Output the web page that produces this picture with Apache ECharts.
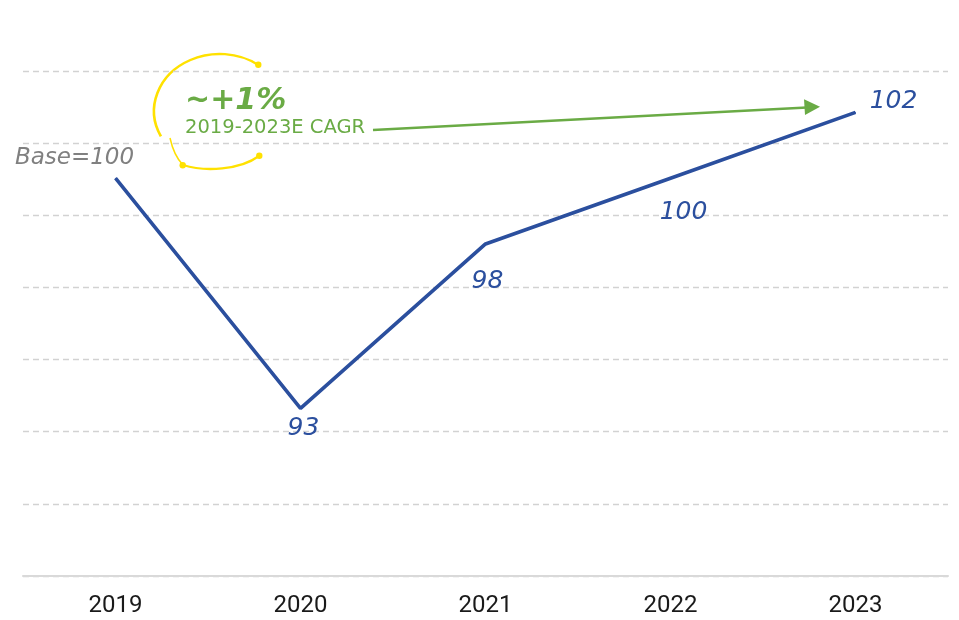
<!DOCTYPE html>
<html lang="en">

<head>
    <meta charset="UTF-8">
    <title>Index 2019-2023</title>
    <script src="https://cdn.jsdelivr.net/npm/echarts@6/dist/echarts.min.js"></script>
    <style>
        html, body { margin: 0; padding: 0; background: #fff; }
    </style>
</head>

<body>
    <div id="chart" style="width: 959px; height: 620px;"></div>
    <script>
        // data
        const years = ['2019', '2020', '2021', '2022', '2023'];
        const indexValues = [100, 93, 98, 100, 102];
        const pointLabels = ['Base=100', '93', '98', '100', '102'];
        const gridSteps = [0, 7];

        const blue = '#2b4f9e';
        const green = '#6aab45';
        const yellow = '#ffe100';

        // label placement per point (offset from the point)
        const labelOffsets = [[-41, -20], [3, 20], [2, 38], [13, 34], [38, -11]];

        let myChart = echarts.init(document.getElementById('chart'));

        let seriesData = indexValues.map(function (v, i) {
            return {
                value: v,
                label: {
                    offset: labelOffsets[i],
                    color: i === 0 ? '#808080' : blue,
                    fontSize: i === 0 ? 23 : 25
                }
            };
        });

        let option = {
            animation: false,
            grid: { left: 23, right: 11, top: 71, bottom: 44 },
            xAxis: {
                type: 'category',
                data: years,
                boundaryGap: true,
                axisTick: { show: false },
                axisLine: { lineStyle: { color: '#d9d9d9', width: 2 } },
                axisLabel: {
                    color: '#1a1a1a',
                    fontSize: 24,
                    fontFamily: 'Roboto',
                    margin: 18
                }
            },
            yAxis: [
                {
                    type: 'value',
                    min: 87.9,
                    max: 103.26,
                    show: false,
                    splitLine: { show: false }
                },
                {
                    type: 'value',
                    min: gridSteps[0],
                    max: gridSteps[1],
                    interval: 1,
                    axisLabel: { show: false },
                    axisLine: { show: false },
                    axisTick: { show: false },
                    splitLine: {
                        show: true,
                        lineStyle: { color: '#d2d2d2', width: 1.4, type: [6, 4] }
                    }
                }
            ],
            series: [
                {
                    type: 'line',
                    yAxisIndex: 0,
                    data: seriesData,
                    symbol: 'circle',
                    symbolSize: 1,
                    itemStyle: { color: blue },
                    lineStyle: { color: blue, width: 3.6 },
                    label: {
                        show: true,
                        position: 'inside',
                        fontFamily: 'DejaVu Sans',
                        fontStyle: 'italic',
                        formatter: function (p) { return pointLabels[p.dataIndex]; }
                    },
                    z: 3
                }
            ],
            graphic: [
                // yellow swoosh round the CAGR note
                {
                    type: 'arc',
                    x: 219.6,
                    y: 111,
                    scaleX: 1.15,
                    shape: { cx: 0, cy: 0, r: 57, startAngle: 2.68, endAngle: 5.34, clockwise: true },
                    style: { fill: 'none', stroke: yellow, lineWidth: 2.3, strokeNoScale: true }
                },
                {
                    type: 'bezierCurve',
                    shape: { x1: 170, y1: 138, cpx1: 174, cpy1: 156, x2: 183, y2: 165 },
                    style: { fill: 'none', stroke: yellow, lineWidth: 1.5 }
                },
                {
                    type: 'bezierCurve',
                    shape: { x1: 183, y1: 165, cpx1: 205, cpy1: 172, cpx2: 240, cpy2: 170, x2: 259, y2: 156 },
                    style: { fill: 'none', stroke: yellow, lineWidth: 2.3 }
                },
                { type: 'circle', shape: { cx: 258.3, cy: 64.7, r: 3.2 }, style: { fill: yellow } },
                { type: 'circle', shape: { cx: 259.3, cy: 155.7, r: 3.2 }, style: { fill: yellow } },
                { type: 'circle', shape: { cx: 182.7, cy: 165.3, r: 3.2 }, style: { fill: yellow } },
                // green CAGR arrow
                {
                    type: 'line',
                    shape: { x1: 373, y1: 130, x2: 807, y2: 107.5 },
                    style: { stroke: green, lineWidth: 2.5 }
                },
                {
                    type: 'polygon',
                    shape: { points: [[820, 106.8], [804, 99.3], [805, 115]] },
                    style: { fill: green }
                },
                {
                    type: 'text',
                    x: 185,
                    y: 101,
                    style: {
                        text: '~+1%',
                        fill: green,
                        font: 'italic bold 30px "DejaVu Sans"',
                        verticalAlign: 'middle'
                    }
                },
                {
                    type: 'text',
                    x: 185,
                    y: 128,
                    style: {
                        text: '2019-2023E CAGR',
                        fill: green,
                        font: '19.5px "DejaVu Sans"',
                        verticalAlign: 'middle'
                    }
                }
            ]
        };

        myChart.setOption(option);
    </script>
</body>

</html>
